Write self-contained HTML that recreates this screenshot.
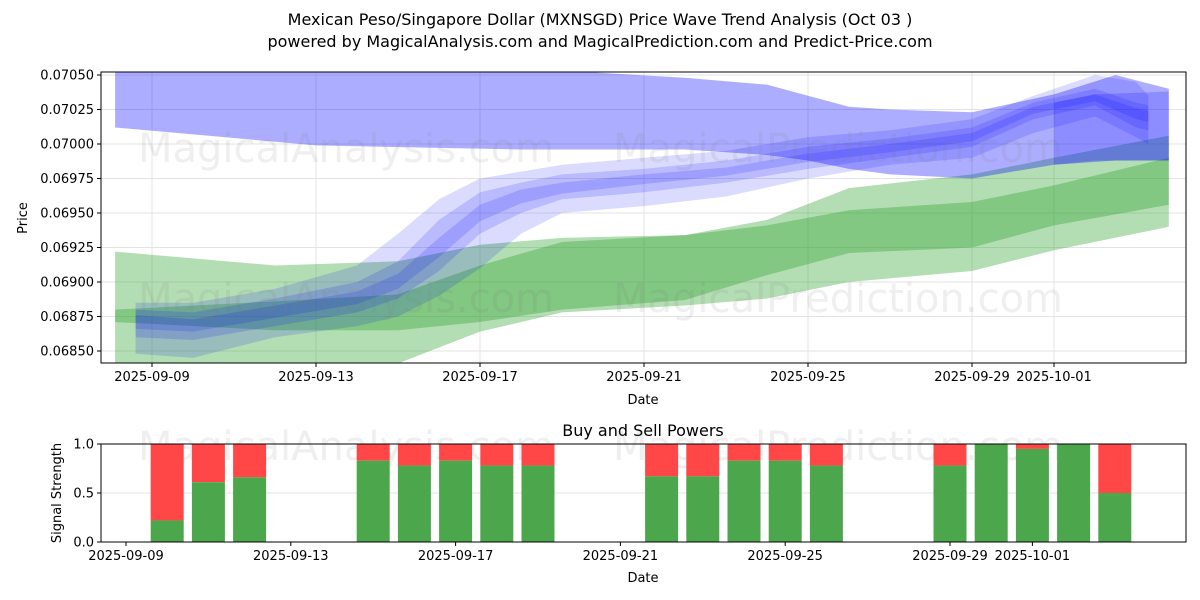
<!DOCTYPE html>
<html><head><meta charset="utf-8"><style>
body{margin:0;background:#fff;}
svg{display:block;font-family:"DejaVu Sans","Liberation Sans",sans-serif;}
</style></head><body>
<svg id="c" width="1200" height="600"></svg>
<script>
const tickDays=[0,4,8,12,16,20,22];
const tickLabels=["2025-09-09","2025-09-13","2025-09-17","2025-09-21","2025-09-25","2025-09-29","2025-10-01"];
const yTicks=[0.0685,0.06875,0.069,0.06925,0.0695,0.06975,0.07,0.07025,0.0705];
const gDays=[-0.9,3,6,8,10,13,15,17,20,22,24.8];
const gOuterUp=[0.06922,0.06912,0.06915,0.06927,0.06932,0.06934,0.06945,0.06968,0.06978,0.06990,0.07006];
const gOuterLo=[0.0680,0.0682,0.06841,0.06864,0.06878,0.06883,0.06888,0.069,0.06908,0.06923,0.0694];
const gInnerUp=[0.06880,0.06886,0.06891,0.06912,0.06929,0.06934,0.06941,0.06952,0.06958,0.0697,0.0699];
const gInnerLo=[0.06871,0.06865,0.06865,0.06871,0.0688,0.06887,0.06905,0.06921,0.06925,0.06941,0.06956];
const bigDays=[-0.9,4,9,13,15,16,17,18,20,22,23.5,24.8];
const bigUp=[0.0706,0.07058,0.07055,0.07048,0.07043,0.07035,0.07027,0.07025,0.07023,0.07036,0.0705,0.0704];
const bigLo=[0.07012,0.06999,0.06996,0.06996,0.06992,0.06988,0.06982,0.06978,0.06975,0.06985,0.06988,0.06988];
const cDays=[-0.4,1,3,5,6,7,8,9,10,12,14,16,18,20,21.5,23,24,24.3];
const b1Up=[0.06885,0.06885,0.06895,0.06912,0.06935,0.0696,0.06975,0.0698,0.06985,0.0699,0.06995,0.07005,0.0701,0.07018,0.07035,0.0705,0.07045,0.07035];
const b1Lo=[0.06848,0.06845,0.0686,0.06868,0.06875,0.0689,0.0691,0.06935,0.0695,0.06955,0.06962,0.06975,0.06985,0.0699,0.07008,0.0702,0.07005,0.07];
const b2Up=[0.0688,0.06878,0.06888,0.069,0.06915,0.06945,0.06965,0.06972,0.06978,0.06982,0.06988,0.06998,0.07004,0.07012,0.0703,0.0704,0.0703,0.07028];
const b2Lo=[0.0686,0.06858,0.06868,0.06878,0.06888,0.06908,0.06935,0.0695,0.0696,0.06965,0.06972,0.06982,0.0699,0.06998,0.07018,0.07028,0.07012,0.0701];
const b3Up=[0.06876,0.06873,0.06883,0.06893,0.06906,0.06932,0.06956,0.06967,0.06972,0.06978,0.06983,0.06993,0.07,0.07008,0.07027,0.07036,0.07026,0.07024];
const b3Lo=[0.06866,0.06864,0.06874,0.06884,0.06895,0.06918,0.06944,0.06957,0.06964,0.06971,0.06977,0.06987,0.06994,0.07002,0.07022,0.07031,0.07018,0.07016];
const rDays=[22,23,24.8];
const rUp=[0.07030,0.07036,0.07038];
const rLo=[0.06985,0.06988,0.06988];
const barDays=[1,2,3,6,7,8,9,10,13,14,15,16,17,20,21,22,23,24];
const buyVals=[0.22,0.61,0.66,0.83,0.78,0.83,0.78,0.78,0.67,0.67,0.83,0.83,0.78,0.78,1.0,0.95,1.0,0.5];

const NS="http://www.w3.org/2000/svg";const svg=document.getElementById('c');
function mk(t,a,p){const e=document.createElementNS(NS,t);for(const k in a)e.setAttribute(k,a[k]);(p||svg).appendChild(e);return e;}
const T={l:101,r:1186,t:72,b:363};
const xT=d=>152+d*41;const yT=v=>75+(0.0705-v)*138000;
const B={l:101,r:1186,t:444,b:542};
const xB=d=>126+d*41.2;const yB=v=>542-v*98;

function txt(x,y,s,o,name){const e=mk('text',Object.assign({x:x,y:y,'font-size':13,fill:'#000'},o||{}));e.textContent=s;

return e;}

txt(600,25,"Mexican Peso/Singapore Dollar (MXNSGD) Price Wave Trend Analysis (Oct 03 )",{'text-anchor':'middle','font-size':16},'chart-title');
txt(600,47,"powered by MagicalAnalysis.com and MagicalPrediction.com and Predict-Price.com",{'text-anchor':'middle','font-size':16},'chart-subtitle');

const cp=mk('clipPath',{id:'ct'});mk('rect',{x:T.l,y:T.t,width:T.r-T.l,height:T.b-T.t},cp);
yTicks.forEach(v=>{const y=yT(v);mk('line',{x1:T.l,x2:T.r,y1:y,y2:y,stroke:'#e3e3e3'});mk('line',{x1:T.l-4,x2:T.l,y1:y,y2:y,stroke:'#000'});
txt(T.l-7,y+4.5,v.toFixed(5),{'text-anchor':'end'},'y-tick-label');});
tickDays.forEach((d,i)=>{const x=xT(d);mk('line',{x1:x,x2:x,y1:T.t,y2:T.b,stroke:'#e3e3e3'});mk('line',{x1:x,x2:x,y1:T.b,y2:T.b+4,stroke:'#000'});
txt(x,T.b+18,tickLabels[i],{'text-anchor':'middle'},'x-tick-label');});
const g=mk('g',{'clip-path':'url(#ct)'});
function band(days,up,lo,fill,name){let pts=[];days.forEach((d,i)=>pts.push(xT(d)+','+yT(up[i])));
for(let i=days.length-1;i>=0;i--)pts.push(xT(days[i])+','+yT(lo[i]));
const p=mk('polygon',{points:pts.join(' '),fill:fill},g);

}
band(gDays,gOuterUp,gOuterLo,'rgba(44,160,44,0.36)','green-outer-band');
band(gDays,gInnerUp,gInnerLo,'rgba(44,160,44,0.36)','green-inner-band');
band(bigDays,bigUp,bigLo,'rgba(0,0,255,0.32)','blue-upper-band');
band(rDays,rUp,rLo,'rgba(0,0,255,0.18)','blue-right-band');
band(cDays,b1Up,b1Lo,'rgba(0,0,255,0.14)','blue-wave-band-1');
band(cDays,b2Up,b2Lo,'rgba(0,0,255,0.15)','blue-wave-band-2');
band(cDays,b3Up,b3Lo,'rgba(0,0,255,0.15)','blue-wave-band-3');
function wm(x,y,s,name){const e=mk('text',{x:x,y:y,'font-size':40,fill:'rgba(120,120,120,0.12)','text-anchor':'middle'});e.textContent=s;

}
wm(346,162,"MagicalAnalysis.com",'watermark');wm(838,162,"MagicalPrediction.com",'watermark');
wm(346,312,"MagicalAnalysis.com",'watermark');wm(838,312,"MagicalPrediction.com",'watermark');
mk('rect',{x:T.l,y:T.t,width:T.r-T.l,height:T.b-T.t,fill:'none',stroke:'#000'});
txt(643,404,"Date",{'text-anchor':'middle'},'x-axis-title');
txt(27,218,"Price",{'text-anchor':'middle',transform:'rotate(-90 27 218)'},'y-axis-title');

txt(643,436,"Buy and Sell Powers",{'text-anchor':'middle','font-size':16},'bottom-title');
[0,0.5,1].forEach(v=>{const y=yB(v);mk('line',{x1:B.l,x2:B.r,y1:y,y2:y,stroke:'#e3e3e3'});mk('line',{x1:B.l-4,x2:B.l,y1:y,y2:y,stroke:'#000'});
txt(B.l-7,y+4.5,v.toFixed(1),{'text-anchor':'end'},'y-tick-label');});
wm(346,460,"MagicalAnalysis.com",'watermark');wm(838,460,"MagicalPrediction.com",'watermark');
barDays.forEach((d,i)=>{const x=xB(d)-16.5;const v=buyVals[i];
const r=mk('rect',{x:x,y:yB(1),width:33,height:yB(v)-yB(1),fill:'#ff4747'});


const gr=mk('rect',{x:x,y:yB(v),width:33,height:B.b-yB(v),fill:'#4ca64c'});

});
tickDays.forEach((d,i)=>{const x=xB(d);mk('line',{x1:x,x2:x,y1:B.b,y2:B.b+4,stroke:'#000'});
txt(x,B.b+18,tickLabels[i],{'text-anchor':'middle'},'x-tick-label');});
mk('rect',{x:B.l,y:B.t,width:B.r-B.l,height:B.b-B.t,fill:'none',stroke:'#000'});
txt(643,582,"Date",{'text-anchor':'middle'},'x-axis-title');
txt(61,493,"Signal Strength",{'text-anchor':'middle',transform:'rotate(-90 61 493)'},'y-axis-title');
</script>
</body></html>
